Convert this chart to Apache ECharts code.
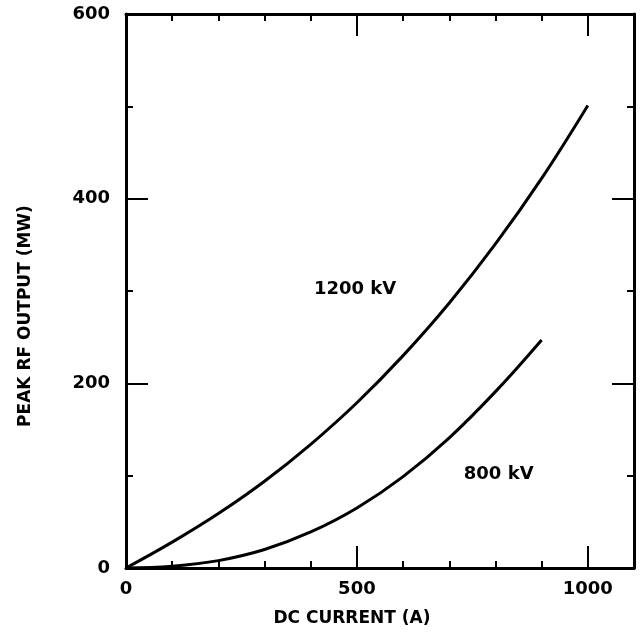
<!DOCTYPE html>
<html>
<head>
<meta charset="utf-8">
<script src="https://cdn.jsdelivr.net/npm/echarts@6/dist/echarts.min.js"></script>
<style>
  html, body { margin: 0; padding: 0; background: #fff; }
  #main { width: 642px; height: 633px; }
</style>
</head>
<body>
<div id="main"></div>
<script>
// DC current (A) vs peak RF output (MW)
const current1200 = [0, 100, 200, 300, 400, 500, 600, 700, 800, 900, 1000];
const power1200 = [0, 28, 59, 94, 134, 179, 230, 287, 351, 422, 501];
const current800 = [0, 100, 200, 300, 400, 500, 600, 700, 800, 900];
const power800 = [0, 2, 8, 20, 39, 65, 99, 141, 191, 247];
const curveLabels = ['1200 kV', '800 kV'];
const labelAt = [[496, 302], [807, 101]];

const FONT = "'DejaVu Sans', sans-serif";
const chart = echarts.init(document.getElementById('main'), null, { renderer: 'canvas' });

function pairs(xs, ys) {
  return xs.map((x, i) => [x, ys[i]]);
}

const tickStyle = { show: true, inside: true, length: 22, lineStyle: { color: '#000', width: 2 } };
const minorStyle = { show: true, length: 7, lineStyle: { color: '#000', width: 2 } };
const lineStyle = { show: true, onZero: false, lineStyle: { color: '#000', width: 3 } };
const labelStyle = { color: '#000', fontFamily: FONT, fontWeight: 'bold', fontSize: 18 };

const option = {
  animation: false,
  backgroundColor: '#fff',
  grid: { left: 126, right: 8, top: 14, bottom: 65, containLabel: false },
  xAxis: [{
    type: 'value', min: 0, max: 1100, interval: 500,
    name: 'DC CURRENT (A)', nameLocation: 'middle', nameGap: 42,
    nameTextStyle: { color: '#000', fontFamily: FONT, fontWeight: 'bold', fontSize: 17, padding: [0, 56, 0, 0] },
    axisLine: lineStyle, axisTick: tickStyle,
    minorTick: Object.assign({ splitNumber: 5 }, minorStyle),
    axisLabel: Object.assign({ margin: 12, showMaxLabel: false, formatter: v => String(v) }, labelStyle),
    splitLine: { show: false }
  }, {
    type: 'value', min: 0, max: 1100, interval: 500, position: 'top',
    axisLine: lineStyle, axisTick: tickStyle,
    minorTick: Object.assign({ splitNumber: 5 }, minorStyle),
    axisLabel: { show: false }, splitLine: { show: false }
  }],
  yAxis: [{
    type: 'value', min: 0, max: 600, interval: 200,
    name: 'PEAK RF OUTPUT (MW)', nameLocation: 'middle', nameGap: 92,
    nameTextStyle: { color: '#000', fontFamily: FONT, fontWeight: 'bold', fontSize: 17, padding: [0, 50, 0, 0] },
    axisLine: lineStyle, axisTick: tickStyle,
    minorTick: Object.assign({ splitNumber: 2 }, minorStyle),
    axisLabel: Object.assign({ margin: 16 }, labelStyle),
    splitLine: { show: false }
  }, {
    type: 'value', min: 0, max: 600, interval: 200, position: 'right',
    axisLine: lineStyle, axisTick: tickStyle,
    minorTick: Object.assign({ splitNumber: 2 }, minorStyle),
    axisLabel: { show: false }, splitLine: { show: false }
  }],
  series: [{
    name: '1200 kV', type: 'line', smooth: 0.4, showSymbol: false,
    lineStyle: { color: '#000', width: 3 },
    data: pairs(current1200, power1200)
  }, {
    name: '800 kV', type: 'line', smooth: 0.4, showSymbol: false,
    lineStyle: { color: '#000', width: 3 },
    data: pairs(current800, power800)
  }]
};

chart.setOption(option);

// curve labels, placed in data coordinates
chart.setOption({
  graphic: labelAt.map((pt, i) => {
    const px = chart.convertToPixel({ gridIndex: 0 }, pt);
    return {
      type: 'text', x: px[0], y: px[1], silent: true,
      style: {
        text: curveLabels[i], fill: '#000', align: 'center', verticalAlign: 'middle',
        font: 'bold 18px ' + FONT
      }
    };
  })
});
</script>
</body>
</html>
